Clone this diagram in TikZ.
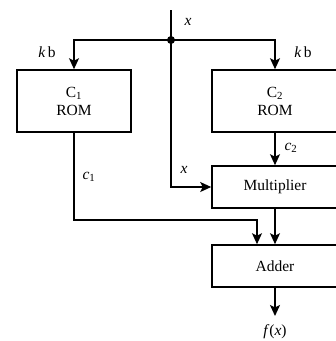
\documentclass[tikz,border=0pt]{standalone}
\usepackage{fontspec}
\setmainfont{Liberation Serif}
\usetikzlibrary{arrows.meta,positioning}

\begin{document}
\begin{tikzpicture}[x=1pt, y=-1pt,
    font=\fontsize{15.5}{18}\selectfont,
    block/.style={draw, line width=1.6pt, align=center, inner sep=0pt},
    romblock/.style={block, minimum width=114pt, minimum height=62pt},
    opblock/.style={block, minimum width=126pt, minimum height=42pt},
    wire/.style={line width=1.6pt},
    arrow/.style={wire, -{Stealth[length=11pt, width=10pt, inset=2.5pt]}},
    ]
    \useasboundingbox (0,0) rectangle (336,341);
    \coordinate (top) at (171,10);
    \coordinate (split) at (171,40);
    \node[romblock] (rom1) at (74,101) {C\textsubscript{1}\\ROM};
    \node[romblock, minimum width=126pt] (rom2) at (275,101) {C\textsubscript{2}\\ROM};
    \node[opblock] (mult) at (275,187) {Multiplier};
    \node[opblock] (adder) at (275,266) {Adder};
    \coordinate (out) at (275,316);

    \node (xin) at (188,22) {\textit{x}};
    \node (kb1) at (47,52) {\textit{k}\,b};
    \node (kb2) at (303,52) {\textit{k}\,b};
    \node (c2) at (291,148) {\textit{c}\textsubscript{2}};
    \node (xmul) at (184,170) {\textit{x}};
    \node (c1) at (89,177) {\textit{c}\textsubscript{1}};
    \node (fx) at (275,332) {\textit{f}(\textit{x})};

    \draw[wire] (top) -- (split);
    \fill (split) circle (4pt);
    \draw[arrow] (split) -| (rom1);
    \draw[arrow] (split) -| (rom2);
    \draw[arrow] (split) |- (mult);
    \draw[arrow] (rom2) -- (mult);
    \draw[arrow] (mult) -- (adder);
    \draw[arrow] (rom1.south) -- (rom1.south |- 0,220) -| ([xshift=-18pt]adder.north);
    \draw[arrow] (adder) -- (out);
\end{tikzpicture}
\end{document}
